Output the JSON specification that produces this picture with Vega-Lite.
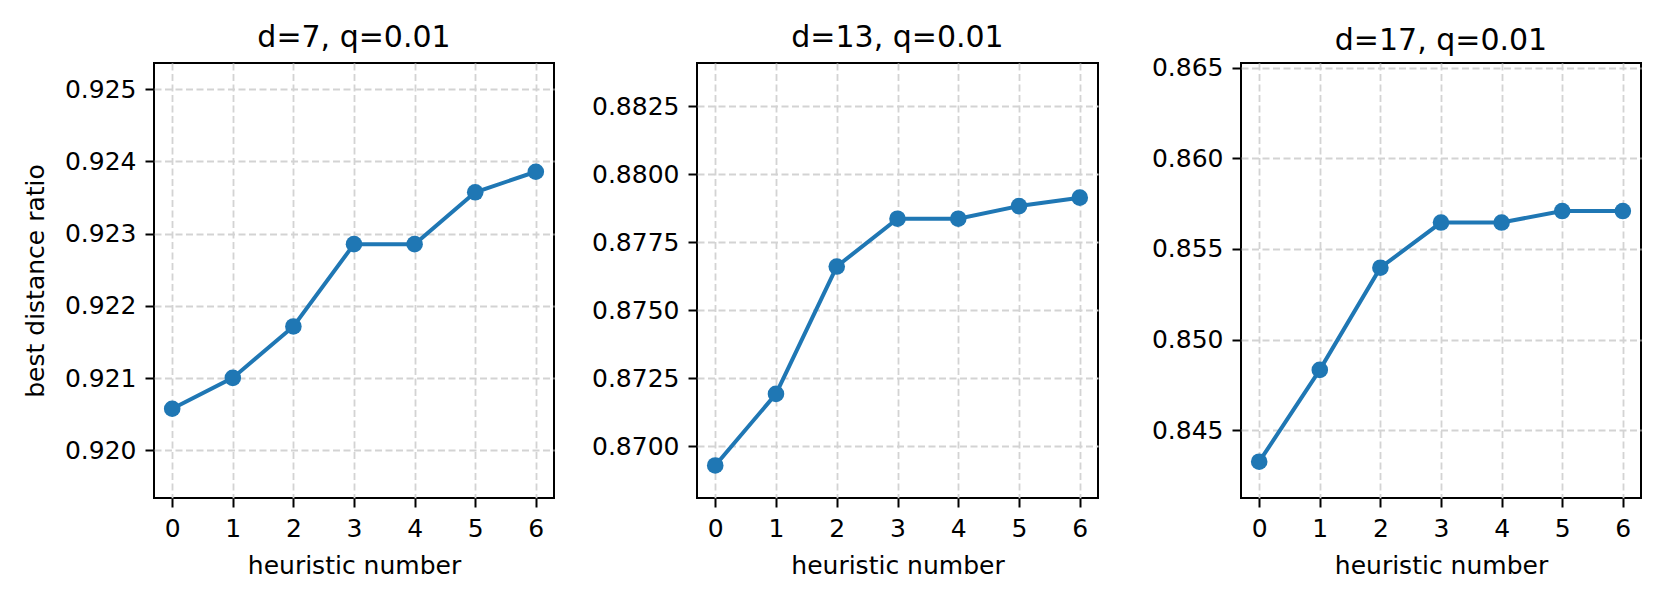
{
  "$schema": "https://vega.github.io/schema/vega-lite/v6.json",
  "padding": {"left": 22, "right": 14, "top": 22, "bottom": 4},
  "background": "white",
  "data": {
    "values": [
      {"panel": "d7", "h": 0, "ratio": 0.920575},
      {"panel": "d7", "h": 1, "ratio": 0.921002},
      {"panel": "d7", "h": 2, "ratio": 0.921714},
      {"panel": "d7", "h": 3, "ratio": 0.922853},
      {"panel": "d7", "h": 4, "ratio": 0.922853},
      {"panel": "d7", "h": 5, "ratio": 0.923571},
      {"panel": "d7", "h": 6, "ratio": 0.923855},
      {"panel": "d13", "h": 0, "ratio": 0.869297},
      {"panel": "d13", "h": 1, "ratio": 0.871926},
      {"panel": "d13", "h": 2, "ratio": 0.876609},
      {"panel": "d13", "h": 3, "ratio": 0.878366},
      {"panel": "d13", "h": 4, "ratio": 0.878366},
      {"panel": "d13", "h": 5, "ratio": 0.87883},
      {"panel": "d13", "h": 6, "ratio": 0.87914},
      {"panel": "d17", "h": 0, "ratio": 0.84327},
      {"panel": "d17", "h": 1, "ratio": 0.848333},
      {"panel": "d17", "h": 2, "ratio": 0.853966},
      {"panel": "d17", "h": 3, "ratio": 0.856456},
      {"panel": "d17", "h": 4, "ratio": 0.856456},
      {"panel": "d17", "h": 5, "ratio": 0.857089},
      {"panel": "d17", "h": 6, "ratio": 0.857089}
    ]
  },
  "spacing": 143,
  "bounds": "flush",
  "hconcat": [
    {
      "title": {"text": "d=7, q=0.01"},
      "width": 400,
      "height": 435,
      "transform": [{"filter": "datum.panel === 'd7'"}],
      "encoding": {
        "x": {"field": "h", "type": "quantitative", "scale": {"domain": [-0.3, 6.3], "nice": false, "zero": false}, "axis": {"values": [0, 1, 2, 3, 4, 5, 6], "format": "d", "title": "heuristic number"}},
        "y": {"field": "ratio", "type": "quantitative", "scale": {"domain": [0.91934, 0.92536], "nice": false, "zero": false}, "axis": {"values": [0.92, 0.921, 0.922, 0.923, 0.924, 0.925], "format": ".3f", "title": "best distance ratio"}}
      },
      "layer": [
        {"mark": {"type": "line", "color": "#1f77b4", "strokeWidth": 4}},
        {"mark": {"type": "point", "filled": true, "color": "#1f77b4", "opacity": 1, "size": 275}}
      ]
    },
    {
      "title": {"text": "d=13, q=0.01"},
      "width": 401,
      "height": 435,
      "transform": [{"filter": "datum.panel === 'd13'"}],
      "encoding": {
        "x": {"field": "h", "type": "quantitative", "scale": {"domain": [-0.3, 6.3], "nice": false, "zero": false}, "axis": {"values": [0, 1, 2, 3, 4, 5, 6], "format": "d", "title": "heuristic number"}},
        "y": {"field": "ratio", "type": "quantitative", "scale": {"domain": [0.8681, 0.88409], "nice": false, "zero": false}, "axis": {"values": [0.87, 0.8725, 0.875, 0.8775, 0.88, 0.8825], "format": ".4f", "title": null}}
      },
      "layer": [
        {"mark": {"type": "line", "color": "#1f77b4", "strokeWidth": 4}},
        {"mark": {"type": "point", "filled": true, "color": "#1f77b4", "opacity": 1, "size": 275}}
      ]
    },
    {
      "title": {"text": "d=17, q=0.01", "offset": -0.6},
      "width": 400,
      "height": 435,
      "transform": [{"filter": "datum.panel === 'd17'"}],
      "encoding": {
        "x": {"field": "h", "type": "quantitative", "scale": {"domain": [-0.3, 6.3], "nice": false, "zero": false}, "axis": {"values": [0, 1, 2, 3, 4, 5, 6], "format": "d", "title": "heuristic number"}},
        "y": {"field": "ratio", "type": "quantitative", "scale": {"domain": [0.84127, 0.86525], "nice": false, "zero": false}, "axis": {"values": [0.845, 0.85, 0.855, 0.86, 0.865], "format": ".3f", "title": null}}
      },
      "layer": [
        {"mark": {"type": "line", "color": "#1f77b4", "strokeWidth": 4}},
        {"mark": {"type": "point", "filled": true, "color": "#1f77b4", "opacity": 1, "size": 275}}
      ]
    }
  ],
  "config": {
    "font": "DejaVu Sans",
    "view": {"stroke": "black", "strokeWidth": 2},
    "axis": {
      "domain": false,
      "grid": true,
      "gridColor": "#d3d3d3",
      "gridDash": [7, 3.5],
      "gridWidth": 1.8,
      "ticks": true,
      "tickColor": "black",
      "tickWidth": 2,
      "tickSize": 9,
      "labelFont": "DejaVu Sans",
      "labelFontSize": 25,
      "labelColor": "black",
      "labelPadding": 9,
      "titleFont": "DejaVu Sans",
      "titleFontSize": 25,
      "titleFontWeight": "normal",
      "titleColor": "black"
    },
    "axisY": {"titlePadding": 16},
    "axisX": {"titlePadding": 12},
    "title": {"font": "DejaVu Sans", "fontSize": 30, "fontWeight": "normal", "color": "black", "offset": 10}
  }
}
